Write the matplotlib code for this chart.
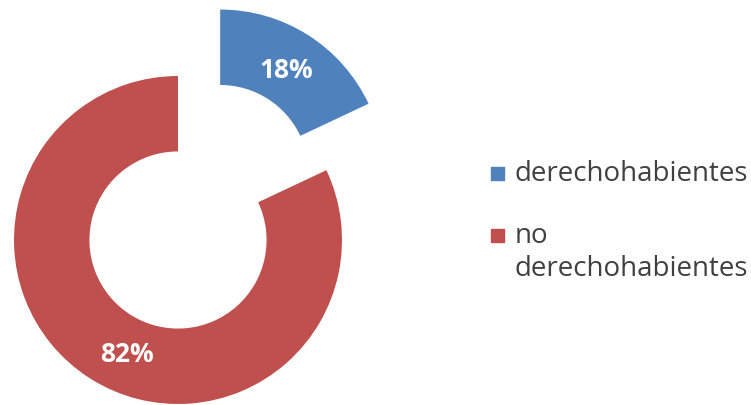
import numpy as np
import matplotlib.pyplot as plt
from matplotlib.patches import Rectangle

labels = ['derechohabientes', 'no\nderechohabientes']
values = [18, 82]
colors = ['#4F81BD', '#C0504D']

W, H = 751, 406
fig = plt.figure(figsize=(W / 100, H / 100), dpi=100)
ax = fig.add_axes([0, 0, 1, 1])

# pie centre at pixel (178, 165 from bottom), radius 164 px
cx, cy, r = 178, 165, 164
wedges, texts, autotexts = ax.pie(
    values, colors=colors, startangle=90, counterclock=False,
    explode=[0.48, 0], autopct='%d%%', pctdistance=0.75,
    wedgeprops=dict(width=0.46, linewidth=0),
    textprops=dict(color='white', fontsize=19, fontweight='bold', family='Open Sans'))
# the 82% label sits a bit further round than the wedge middle
a = np.deg2rad(246)
autotexts[1].set_position((0.76 * np.cos(a), 0.76 * np.sin(a)))

ax.set_xlim(-cx / r, (W - cx) / r)
ax.set_ylim(-cy / r, (H - cy) / r)
ax.set_aspect('auto')
ax.axis('off')

# legend drawn by hand so the marker sits on the first line
legend_top = [160, 222]
for lab, col, top in zip(labels, colors, legend_top):
    fig.add_artist(Rectangle((491 / W, (H - top - 21) / H), 13 / W, 13 / H,
                             color=col, transform=fig.transFigure))
    fig.text(515 / W, (H - top) / H, lab, va='top', ha='left', fontsize=20,
             color='#404040', family='Open Sans', linespacing=1.25)

fig.savefig('out.png', dpi=100)
